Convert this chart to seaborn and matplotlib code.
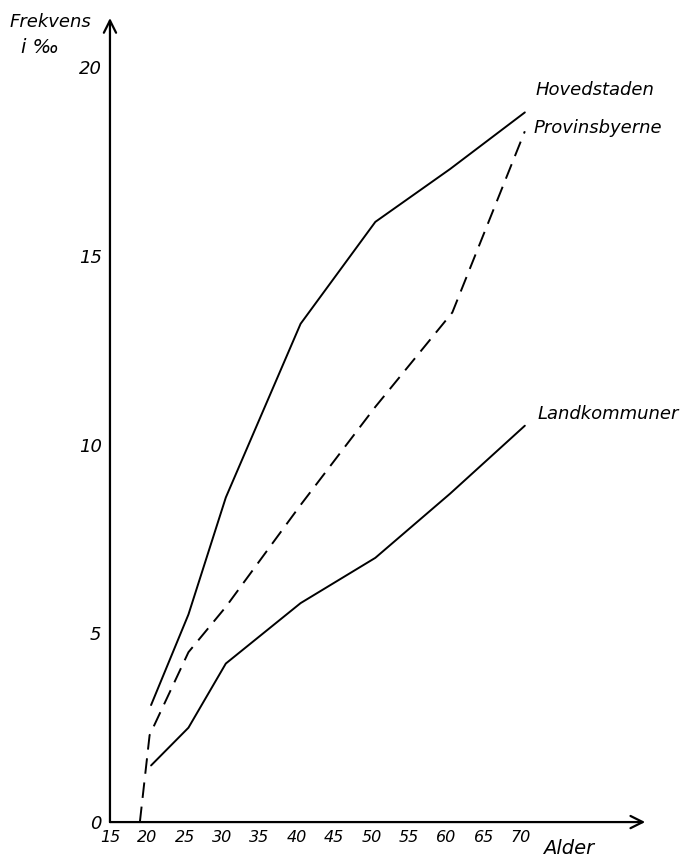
import matplotlib
matplotlib.use("Agg")
import matplotlib.pyplot as plt
import seaborn as sns
import pandas as pd

# ages (midpoints of the age groups) and frequency per mille
alder = [20.5, 25.5, 30.5, 40.5, 50.5, 60.5, 70.5]
hovedstaden = [3.1, 5.5, 8.6, 13.2, 15.9, 17.3, 18.8]
landkommuner = [1.5, 2.5, 4.2, 5.8, 7.0, 8.7, 10.5]
alder_prov = [19.0, 20.3, 25.5, 30.5, 40.5, 50.5, 60.8, 70.5]
provinsbyerne = [0.0, 2.3, 4.5, 5.7, 8.4, 11.0, 13.5, 18.3]

series = ["Hovedstaden", "Provinsbyerne", "Landkommuner"]
x_ticks = [15, 20, 25, 30, 35, 40, 45, 50, 55, 60, 65, 70]
y_ticks = [0, 5, 10, 15, 20]

rows = []
for a, v in zip(alder, hovedstaden):
    rows.append((a, v, "Hovedstaden"))
for a, v in zip(alder_prov, provinsbyerne):
    rows.append((a, v, "Provinsbyerne"))
for a, v in zip(alder, landkommuner):
    rows.append((a, v, "Landkommuner"))
df = pd.DataFrame(rows, columns=["Alder", "Frekvens", "Område"])

sns.set_style("white")
plt.rcParams["font.family"] = ["DejaVu Sans"]

fig = plt.figure(figsize=(6.96, 8.59), dpi=100)
ax = fig.add_axes([0.158, 0.043, 0.769, 0.936])

sns.lineplot(data=df, x="Alder", y="Frekvens", hue="Område", style="Område",
             palette={s: "black" for s in series},
             dashes={"Hovedstaden": "", "Provinsbyerne": (8, 4.5), "Landkommuner": ""},
             sort=False, estimator=None, legend=False, linewidth=1.4, ax=ax)

ax.set_xlim(15, 86.6)
ax.set_ylim(0, 21.3)
for s in ax.spines.values():
    s.set_visible(False)

# hand-drawn style axes with arrows
ax.annotate("", xy=(1, 0), xytext=(0, 0), xycoords="axes fraction",
            arrowprops=dict(arrowstyle="->", lw=1.6, color="black",
                            mutation_scale=22, shrinkA=0, shrinkB=0))
ax.annotate("", xy=(0, 1), xytext=(0, 0), xycoords="axes fraction",
            arrowprops=dict(arrowstyle="->", lw=1.6, color="black",
                            mutation_scale=22, shrinkA=0, shrinkB=0))

txt = dict(style="italic", color="black")
ax.set_xticks(x_ticks)
ax.set_xticklabels([str(t) for t in x_ticks], fontsize=11.5, **txt)
ax.set_yticks(y_ticks)
ax.set_yticklabels([str(t) for t in y_ticks], fontsize=13, **txt)
ax.tick_params(axis="x", direction="in", length=4, width=1.2, pad=6)
ax.tick_params(axis="y", direction="inout", length=6, width=1.2, pad=3)
ax.set_xlabel("")
ax.set_ylabel("")
ax.grid(False)

ax.text(71.9, 19.4, "Hovedstaden", fontsize=13, ha="left", va="center", **txt)
ax.text(71.6, 18.4, "Provinsbyerne", fontsize=13, ha="left", va="center", **txt)
ax.text(72.2, 10.8, "Landkommuner", fontsize=13, ha="left", va="center", **txt)

fig.text(0.014, 0.974, "Frekvens", fontsize=13, ha="left", va="center", **txt)
fig.text(0.03, 0.945, "i ‰", fontsize=14, ha="left", va="center", **txt)
fig.text(0.78, 0.012, "Alder", fontsize=14, ha="left", va="center", **txt)

fig.savefig("out.png", dpi=100, facecolor="white")
